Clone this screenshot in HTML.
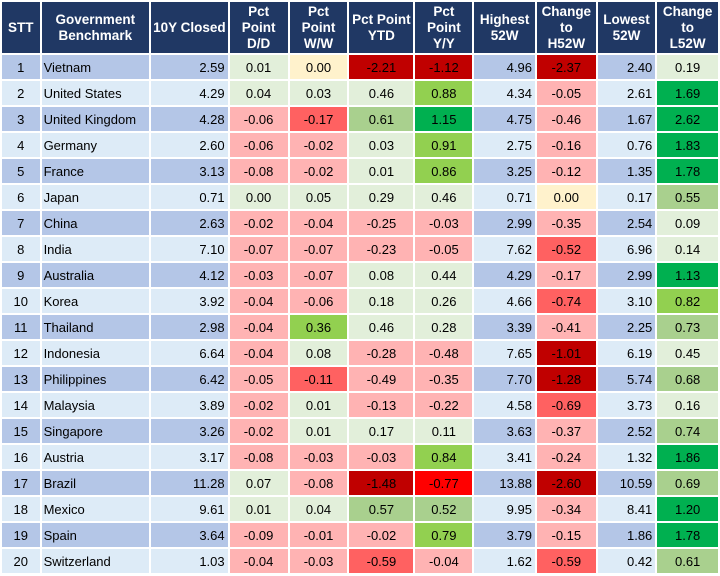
<!DOCTYPE html>
<html><head><meta charset="utf-8">
<style>
html,body{margin:0;padding:0;background:#fff;width:720px;height:576px;overflow:hidden}
table{border-collapse:collapse;table-layout:fixed;font-family:"Liberation Sans",Arial,sans-serif;font-size:13px;color:#000}
td,th{border:2px solid #fff;padding:0 4px;height:24px;white-space:nowrap;overflow:hidden}
th{background:#203864;color:#fff;font-weight:bold;font-size:13.5px;line-height:16px;height:51px;text-align:center;padding:0 2px}
tr.o td.b{background:#b4c6e7}
tr.e td.b{background:#ddebf7}
td.c{text-align:center}td.l{text-align:left;padding-left:2px}td.r{text-align:right;padding-right:3px}
.r0{background:#ffb3b3}.r1{background:#ff6161}.r2{background:#ff0000}.r3{background:#c00000}
.y{background:#fff2cc}.g0{background:#e2efda}.g1{background:#a9d08e}.g2{background:#92d050}.g3{background:#00b050}
</style></head><body>
<table id="t">
<colgroup><col style="width:40px"><col style="width:110px"><col style="width:75px"><col style="width:61px"><col style="width:61px"><col style="width:66px"><col style="width:60px"><col style="width:63px"><col style="width:61px"><col style="width:60px"><col style="width:63px"></colgroup>
<thead><tr>
<th>STT</th>
<th>Government<br>Benchmark</th>
<th>10Y Closed</th>
<th>Pct<br>Point<br>D/D</th>
<th>Pct<br>Point<br>W/W</th>
<th>Pct Point<br>YTD</th>
<th>Pct<br>Point<br>Y/Y</th>
<th>Highest<br>52W</th>
<th>Change<br>to<br>H52W</th>
<th>Lowest<br>52W</th>
<th>Change<br>to<br>L52W</th>
</tr></thead><tbody id="tb"></tbody></table>
<script>
const countries=["Vietnam","United States","United Kingdom","Germany","France","Japan","China","India","Australia","Korea","Thailand","Indonesia","Philippines","Malaysia","Singapore","Austria","Brazil","Mexico","Spain","Switzerland"];
const closed=["2.59","4.29","4.28","2.60","3.13","0.71","2.63","7.10","4.12","3.92","2.98","6.64","6.42","3.89","3.26","3.17","11.28","9.61","3.64","1.03"];
const dd=["0.01","0.04","-0.06","-0.06","-0.08","0.00","-0.02","-0.07","-0.03","-0.04","-0.04","-0.04","-0.05","-0.02","-0.02","-0.08","0.07","0.01","-0.09","-0.04"];
const ww=["0.00","0.03","-0.17","-0.02","-0.02","0.05","-0.04","-0.07","-0.07","-0.06","0.36","0.08","-0.11","0.01","0.01","-0.03","-0.08","0.04","-0.01","-0.03"];
const ytd=["-2.21","0.46","0.61","0.03","0.01","0.29","-0.25","-0.23","0.08","0.18","0.46","-0.28","-0.49","-0.13","0.17","-0.03","-1.48","0.57","-0.02","-0.59"];
const yy=["-1.12","0.88","1.15","0.91","0.86","0.46","-0.03","-0.05","0.44","0.26","0.28","-0.48","-0.35","-0.22","0.11","0.84","-0.77","0.52","0.79","-0.04"];
const high=["4.96","4.34","4.75","2.75","3.25","0.71","2.99","7.62","4.29","4.66","3.39","7.65","7.70","4.58","3.63","3.41","13.88","9.95","3.79","1.62"];
const chgH=["-2.37","-0.05","-0.46","-0.16","-0.12","0.00","-0.35","-0.52","-0.17","-0.74","-0.41","-1.01","-1.28","-0.69","-0.37","-0.24","-2.60","-0.34","-0.15","-0.59"];
const low=["2.40","2.61","1.67","0.76","1.35","0.17","2.54","6.96","2.99","3.10","2.25","6.19","5.74","3.73","2.52","1.32","10.59","8.41","1.86","0.42"];
const chgL=["0.19","1.69","2.62","1.83","1.78","0.55","0.09","0.14","1.13","0.82","0.73","0.45","0.68","0.16","0.74","1.86","0.69","1.20","1.78","0.61"];
function shade(v,col){
  v=parseFloat(v);
  if(col==="ww"&&v===0)return "y";
  if(col==="chgH"&&v===0)return "y";
  if(v<=-1.0)return "r3";
  if(v<=-0.75)return "r2";
  if(v<=-0.5||(col==="ww"&&v<=-0.1))return "r1";
  if(v<0)return "r0";
  if(v>=1.0)return "g3";
  if(v>=0.75||(col==="ww"&&v>=0.3))return "g2";
  if(v>=0.5)return "g1";
  return "g0";
}
const tb=document.getElementById('tb');
countries.forEach((c,i)=>{
  const tr=document.createElement('tr');
  tr.className=i%2===0?'o':'e';
  
  
  const cells=[[String(i+1),'c b','stt'],[c,'l b','country'],[closed[i],'r b','closed'],
    [dd[i],'c '+shade(dd[i],'dd'),'dd'],[ww[i],'c '+shade(ww[i],'ww'),'ww'],
    [ytd[i],'c '+shade(ytd[i],'ytd'),'ytd'],[yy[i],'c '+shade(yy[i],'yy'),'yy'],
    [high[i],'r b','high-52w'],[chgH[i],'c '+shade(chgH[i],'chgH'),'change-h52w'],
    [low[i],'r b','low-52w'],[chgL[i],'c '+shade(chgL[i],'chgL'),'change-l52w']];
  cells.forEach(([t,cls,n])=>{
    const td=document.createElement('td');
    td.className=cls;td.textContent=t;
    
    
    tr.appendChild(td);
  });
  tb.appendChild(tr);
});
</script>
</body></html>
